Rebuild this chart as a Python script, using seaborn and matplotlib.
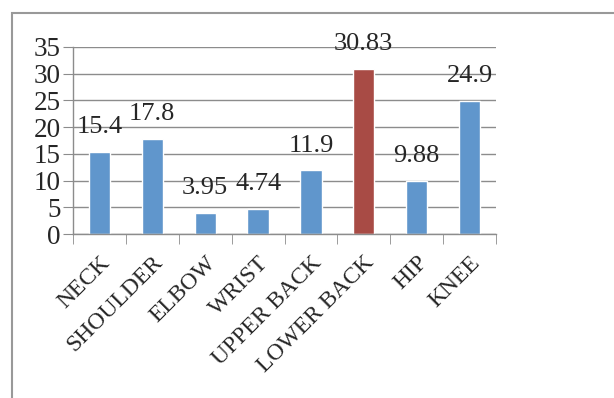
import matplotlib
matplotlib.use("Agg")
import matplotlib.pyplot as plt
import seaborn as sns
from matplotlib.patches import Rectangle

regions = ["NECK", "SHOULDER", "ELBOW", "WRIST", "UPPER BACK", "LOWER BACK", "HIP", "KNEE"]
scores = [15.4, 17.8, 3.95, 4.74, 11.9, 30.83, 9.88, 24.9]
labels = ["15.4", "17.8", "3.95", "4.74", "11.9", "30.83", "9.88", "24.9"]
colors = ["#6096CC"] * 5 + ["#A84B45"] + ["#6096CC"] * 2

sns.set_style("white")
plt.rcParams["font.family"] = ["Liberation Serif", "DejaVu Serif"]

fig = plt.figure(figsize=(6.14, 3.98), dpi=100)
ax = fig.add_axes([73 / 614, 164 / 398, 423 / 614, 187 / 398])

sns.barplot(x=regions, y=scores, hue=regions, palette=colors, width=0.4,
            legend=False, saturation=1, ax=ax)

# data labels above the bars
for cont, lab in zip(ax.containers, labels):
    ax.bar_label(cont, labels=[lab], padding=10, fontsize=19)

ax.set_ylim(0, 35)
ax.set_xlim(-0.5, 7.5)
ax.set_yticks(range(0, 40, 5))
ax.yaxis.grid(True, color="#8c8c8c", lw=1)
ax.set_axisbelow(True)
for s in ["top", "right"]:
    ax.spines[s].set_visible(False)
for s in ["left", "bottom"]:
    ax.spines[s].set_color("#8c8c8c")
    ax.spines[s].set_linewidth(1)

ax.tick_params(axis="y", length=7, color="#8c8c8c", labelsize=19.5, pad=2, left=True)
ax.set_xticks(range(len(regions)))
ax.set_xticklabels(regions, rotation=45, ha="right", rotation_mode="anchor", fontsize=17)
ax.tick_params(axis="x", which="major", length=0, pad=13)
ax.set_xticks([i - 0.5 for i in range(len(regions) + 1)], minor=True)
ax.tick_params(axis="x", which="minor", length=7, color="#8c8c8c", bottom=True)

# outer chart frame
fig.add_artist(Rectangle((12 / 614, -0.1), 1.2, (398 - 13) / 398 + 0.1,
                         transform=fig.transFigure, fill=False,
                         edgecolor="#999999", lw=1.5, clip_on=False))

fig.savefig("out.png", dpi=100)
